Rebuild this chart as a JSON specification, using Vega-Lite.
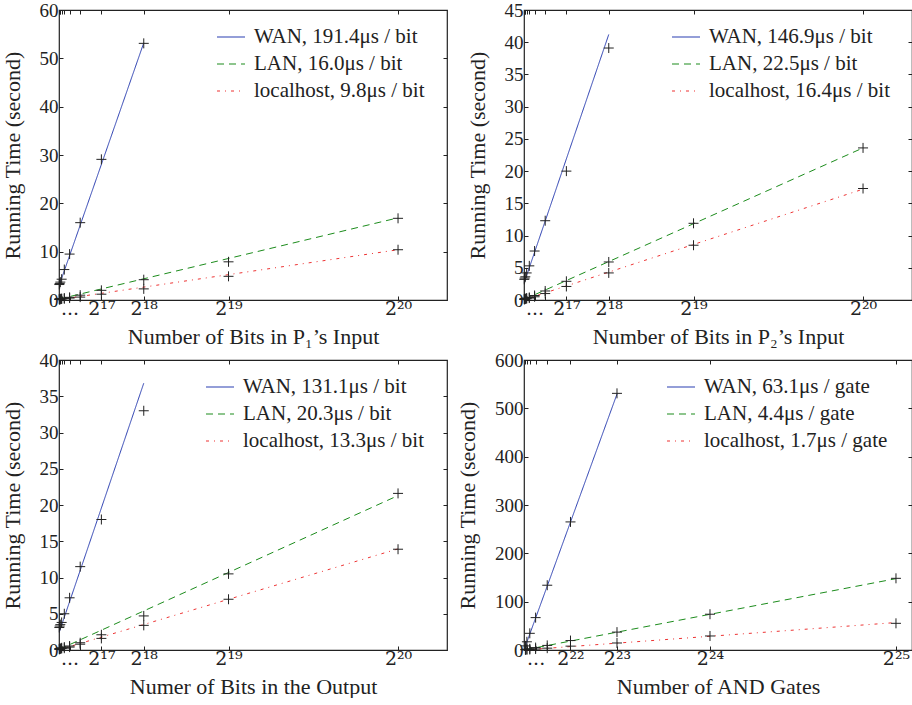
{
"$schema":"https://vega.github.io/schema/vega-lite/v6.json",
"padding":{"left":0,"top":0,"right":1,"bottom":0},
"columns":2,
"spacing":{"row":2,"column":6},
"resolve":{"scale":{"color":"independent","strokeDash":"independent"}},
"config":{
 "font":"Liberation Serif",
 "view":{"stroke":"#222","strokeWidth":1.2},
 "axis":{"labelFont":"Liberation Serif","titleFont":"Liberation Serif","labelFontSize":19,"titleFontSize":22,"titleFontWeight":"normal","tickSize":-4,"tickColor":"#222","labelColor":"#222","titleColor":"#222","grid":false,"domain":false,"labelPadding":5,"titlePadding":15,"labelOverlap":false,"labelBound":false,"labelFlush":false},
 "axisBottom":{"labelFont":"DejaVu Serif","labelFontSize":19,"labelPadding":3,"titlePadding":8},
 "legend":{"orient":"none","legendY":12,"padding":0,"labelFont":"Liberation Serif","labelFontSize":21,"labelColor":"#222","symbolType":"stroke","symbolSize":784,"symbolStrokeWidth":1.2,"rowPadding":2,"labelOffset":8,"labelLimit":400,"title":null}
},
"concat":[
{
 "width":388,"height":290,
 "data":{"values":[
  {"x":1024,"net":"WAN","t":3.2},{"x":2048,"net":"WAN","t":3.4},{"x":4096,"net":"WAN","t":3.7},{"x":8192,"net":"WAN","t":4.3},{"x":16384,"net":"WAN","t":6.3},{"x":32768,"net":"WAN","t":9.5},{"x":65536,"net":"WAN","t":16.0},{"x":131072,"net":"WAN","t":29.1},{"x":262144,"net":"WAN","t":53.1},
  {"x":1024,"net":"LAN","t":0.2},{"x":2048,"net":"LAN","t":0.22},{"x":4096,"net":"LAN","t":0.25},{"x":8192,"net":"LAN","t":0.3},{"x":16384,"net":"LAN","t":0.4},{"x":32768,"net":"LAN","t":0.55},{"x":65536,"net":"LAN","t":1.0},{"x":131072,"net":"LAN","t":2.0},{"x":262144,"net":"LAN","t":4.2},{"x":524288,"net":"LAN","t":7.9},{"x":1048576,"net":"LAN","t":16.9},
  {"x":1024,"net":"localhost","t":0.1},{"x":2048,"net":"localhost","t":0.12},{"x":4096,"net":"localhost","t":0.15},{"x":8192,"net":"localhost","t":0.2},{"x":16384,"net":"localhost","t":0.25},{"x":32768,"net":"localhost","t":0.4},{"x":65536,"net":"localhost","t":0.6},{"x":131072,"net":"localhost","t":1.2},{"x":262144,"net":"localhost","t":2.3},{"x":524288,"net":"localhost","t":4.9},{"x":1048576,"net":"localhost","t":10.4},
  {"x":1024,"net":"WAN","fit":3.1},{"x":262144,"net":"WAN","fit":53.2},
  {"x":1024,"net":"LAN","fit":0.2},{"x":1048576,"net":"LAN","fit":17.0},
  {"x":1024,"net":"localhost","fit":0.1},{"x":1048576,"net":"localhost","fit":10.4}
 ]},
 "layer":[
  {"transform":[{"filter":"isValid(datum.fit)"}],
   "mark":{"type":"line","strokeWidth":1},
   "encoding":{
    "x":{"field":"x","type":"quantitative","scale":{"domain":[0,1200000],"nice":false},"axis":{"orient":"bottom","title":"Number of Bits in P₁’s Input","values":[1024,2048,4096,8192,16384,32768,65536,131072,262144,524288,1048576],"labelExpr":"datum.value == 32768 ? '...' : datum.value == 131072 ? '2¹⁷' : datum.value == 262144 ? '2¹⁸' : datum.value == 524288 ? '2¹⁹' : datum.value == 1048576 ? '2²⁰' : ''"}},
    "y":{"field":"fit","type":"quantitative","scale":{"domain":[0,60],"nice":false},"axis":{"orient":"left","title":"Running Time (second)","values":[0,10,20,30,40,50,60]}},
    "color":{"field":"net","type":"nominal","scale":{"domain":["WAN","LAN","localhost"],"range":["#2a3eb1","#1c8c1c","#ee3333"]},"legend":{"legendX":157,"labelExpr":"datum.label == 'WAN' ? 'WAN, 191.4μs / bit' : datum.label == 'LAN' ? 'LAN, 16.0μs / bit' : 'localhost, 9.8μs / bit'"}},
    "strokeDash":{"field":"net","type":"nominal","scale":{"domain":["WAN","LAN","localhost"],"range":[[1,0],[7,5],[3,5,1,5]]},"legend":{"legendX":157,"labelExpr":"datum.label == 'WAN' ? 'WAN, 191.4μs / bit' : datum.label == 'LAN' ? 'LAN, 16.0μs / bit' : 'localhost, 9.8μs / bit'"}}
   }},
  {"transform":[{"filter":"isValid(datum.t)"}],
   "mark":{"type":"point","shape":"M-1,0H1M0,-1V1","size":100,"stroke":"#222","strokeWidth":1,"filled":false,"opacity":1},
   "encoding":{
    "x":{"field":"x","type":"quantitative","axis":{"orient":"top","title":null,"labels":false,"values":[1024,2048,4096,8192,16384,32768,65536,131072,262144,524288,1048576]}},
    "y":{"field":"t","type":"quantitative","axis":{"orient":"right","title":null,"labels":false,"values":[0,10,20,30,40,50,60]}}
   }}
 ]
},
{
 "width":388,"height":290,
 "data":{"values":[
  {"x":1024,"net":"WAN","t":3.2},{"x":2048,"net":"WAN","t":3.4},{"x":4096,"net":"WAN","t":3.6},{"x":8192,"net":"WAN","t":4.2},{"x":16384,"net":"WAN","t":5.3},{"x":32768,"net":"WAN","t":7.6},{"x":65536,"net":"WAN","t":12.3},{"x":131072,"net":"WAN","t":20.0},{"x":262144,"net":"WAN","t":39.1},
  {"x":1024,"net":"LAN","t":0.15},{"x":2048,"net":"LAN","t":0.18},{"x":4096,"net":"LAN","t":0.22},{"x":8192,"net":"LAN","t":0.3},{"x":16384,"net":"LAN","t":0.4},{"x":32768,"net":"LAN","t":0.7},{"x":65536,"net":"LAN","t":1.4},{"x":131072,"net":"LAN","t":2.9},{"x":262144,"net":"LAN","t":5.9},{"x":524288,"net":"LAN","t":11.9},{"x":1048576,"net":"LAN","t":23.6},
  {"x":1024,"net":"localhost","t":0.1},{"x":2048,"net":"localhost","t":0.12},{"x":4096,"net":"localhost","t":0.15},{"x":8192,"net":"localhost","t":0.2},{"x":16384,"net":"localhost","t":0.3},{"x":32768,"net":"localhost","t":0.5},{"x":65536,"net":"localhost","t":1.0},{"x":131072,"net":"localhost","t":2.1},{"x":262144,"net":"localhost","t":4.2},{"x":524288,"net":"localhost","t":8.5},{"x":1048576,"net":"localhost","t":17.3},
  {"x":1024,"net":"WAN","fit":2.75},{"x":262144,"net":"WAN","fit":41.2},
  {"x":1024,"net":"LAN","fit":0.1},{"x":1048576,"net":"LAN","fit":23.6},
  {"x":1024,"net":"localhost","fit":0.05},{"x":1048576,"net":"localhost","fit":17.2}
 ]},
 "layer":[
  {"transform":[{"filter":"isValid(datum.fit)"}],
   "mark":{"type":"line","strokeWidth":1},
   "encoding":{
    "x":{"field":"x","type":"quantitative","scale":{"domain":[0,1200000],"nice":false},"axis":{"orient":"bottom","title":"Number of Bits in P₂’s Input","values":[1024,2048,4096,8192,16384,32768,65536,131072,262144,524288,1048576],"labelExpr":"datum.value == 32768 ? '...' : datum.value == 131072 ? '2¹⁷' : datum.value == 262144 ? '2¹⁸' : datum.value == 524288 ? '2¹⁹' : datum.value == 1048576 ? '2²⁰' : ''"}},
    "y":{"field":"fit","type":"quantitative","scale":{"domain":[0,45],"nice":false},"axis":{"orient":"left","title":"Running Time (second)","values":[0,5,10,15,20,25,30,35,40,45]}},
    "color":{"field":"net","type":"nominal","scale":{"domain":["WAN","LAN","localhost"],"range":["#2a3eb1","#1c8c1c","#ee3333"]},"legend":{"legendX":147,"labelExpr":"datum.label == 'WAN' ? 'WAN, 146.9μs / bit' : datum.label == 'LAN' ? 'LAN, 22.5μs / bit' : 'localhost, 16.4μs / bit'"}},
    "strokeDash":{"field":"net","type":"nominal","scale":{"domain":["WAN","LAN","localhost"],"range":[[1,0],[7,5],[3,5,1,5]]},"legend":{"legendX":147,"labelExpr":"datum.label == 'WAN' ? 'WAN, 146.9μs / bit' : datum.label == 'LAN' ? 'LAN, 22.5μs / bit' : 'localhost, 16.4μs / bit'"}}
   }},
  {"transform":[{"filter":"isValid(datum.t)"}],
   "mark":{"type":"point","shape":"M-1,0H1M0,-1V1","size":100,"stroke":"#222","strokeWidth":1,"filled":false,"opacity":1},
   "encoding":{
    "x":{"field":"x","type":"quantitative","axis":{"orient":"top","title":null,"labels":false,"values":[1024,2048,4096,8192,16384,32768,65536,131072,262144,524288,1048576]}},
    "y":{"field":"t","type":"quantitative","axis":{"orient":"right","title":null,"labels":false,"values":[0,5,10,15,20,25,30,35,40,45]}}
   }}
 ]
},
{
 "width":388,"height":290,
 "data":{"values":[
  {"x":1024,"net":"WAN","t":3.1},{"x":2048,"net":"WAN","t":3.3},{"x":4096,"net":"WAN","t":3.5},{"x":8192,"net":"WAN","t":3.8},{"x":16384,"net":"WAN","t":5.0},{"x":32768,"net":"WAN","t":7.2},{"x":65536,"net":"WAN","t":11.5},{"x":131072,"net":"WAN","t":18.0},{"x":262144,"net":"WAN","t":33.0},
  {"x":1024,"net":"LAN","t":0.15},{"x":2048,"net":"LAN","t":0.18},{"x":4096,"net":"LAN","t":0.22},{"x":8192,"net":"LAN","t":0.3},{"x":16384,"net":"LAN","t":0.4},{"x":32768,"net":"LAN","t":0.55},{"x":65536,"net":"LAN","t":1.0},{"x":131072,"net":"LAN","t":2.1},{"x":262144,"net":"LAN","t":4.7},{"x":524288,"net":"LAN","t":10.5},{"x":1048576,"net":"LAN","t":21.6},
  {"x":1024,"net":"localhost","t":0.1},{"x":2048,"net":"localhost","t":0.12},{"x":4096,"net":"localhost","t":0.15},{"x":8192,"net":"localhost","t":0.2},{"x":16384,"net":"localhost","t":0.25},{"x":32768,"net":"localhost","t":0.4},{"x":65536,"net":"localhost","t":0.8},{"x":131072,"net":"localhost","t":1.6},{"x":262144,"net":"localhost","t":3.4},{"x":524288,"net":"localhost","t":7.0},{"x":1048576,"net":"localhost","t":13.9},
  {"x":1024,"net":"WAN","fit":2.5},{"x":262144,"net":"WAN","fit":36.8},
  {"x":1024,"net":"LAN","fit":0.1},{"x":1048576,"net":"LAN","fit":21.3},
  {"x":1024,"net":"localhost","fit":0.05},{"x":1048576,"net":"localhost","fit":13.95}
 ]},
 "layer":[
  {"transform":[{"filter":"isValid(datum.fit)"}],
   "mark":{"type":"line","strokeWidth":1},
   "encoding":{
    "x":{"field":"x","type":"quantitative","scale":{"domain":[0,1200000],"nice":false},"axis":{"orient":"bottom","title":"Numer of Bits in the Output","values":[1024,2048,4096,8192,16384,32768,65536,131072,262144,524288,1048576],"labelExpr":"datum.value == 32768 ? '...' : datum.value == 131072 ? '2¹⁷' : datum.value == 262144 ? '2¹⁸' : datum.value == 524288 ? '2¹⁹' : datum.value == 1048576 ? '2²⁰' : ''"}},
    "y":{"field":"fit","type":"quantitative","scale":{"domain":[0,40],"nice":false},"axis":{"orient":"left","title":"Running Time (second)","values":[0,5,10,15,20,25,30,35,40]}},
    "color":{"field":"net","type":"nominal","scale":{"domain":["WAN","LAN","localhost"],"range":["#2a3eb1","#1c8c1c","#ee3333"]},"legend":{"legendX":146,"labelExpr":"datum.label == 'WAN' ? 'WAN, 131.1μs / bit' : datum.label == 'LAN' ? 'LAN, 20.3μs / bit' : 'localhost, 13.3μs / bit'"}},
    "strokeDash":{"field":"net","type":"nominal","scale":{"domain":["WAN","LAN","localhost"],"range":[[1,0],[7,5],[3,5,1,5]]},"legend":{"legendX":146,"labelExpr":"datum.label == 'WAN' ? 'WAN, 131.1μs / bit' : datum.label == 'LAN' ? 'LAN, 20.3μs / bit' : 'localhost, 13.3μs / bit'"}}
   }},
  {"transform":[{"filter":"isValid(datum.t)"}],
   "mark":{"type":"point","shape":"M-1,0H1M0,-1V1","size":100,"stroke":"#222","strokeWidth":1,"filled":false,"opacity":1},
   "encoding":{
    "x":{"field":"x","type":"quantitative","axis":{"orient":"top","title":null,"labels":false,"values":[1024,2048,4096,8192,16384,32768,65536,131072,262144,524288,1048576]}},
    "y":{"field":"t","type":"quantitative","axis":{"orient":"right","title":null,"labels":false,"values":[0,5,10,15,20,25,30,35,40]}}
   }}
 ]
},
{
 "width":388,"height":290,
 "data":{"values":[
  {"x":131072,"net":"WAN","t":8.5},{"x":262144,"net":"WAN","t":17},{"x":524288,"net":"WAN","t":34.5},{"x":1048576,"net":"WAN","t":67},{"x":2097152,"net":"WAN","t":134},{"x":4194304,"net":"WAN","t":265},{"x":8388608,"net":"WAN","t":531},
  {"x":131072,"net":"LAN","t":1.0},{"x":262144,"net":"LAN","t":1.5},{"x":524288,"net":"LAN","t":2.5},{"x":1048576,"net":"LAN","t":5},{"x":2097152,"net":"LAN","t":9.5},{"x":4194304,"net":"LAN","t":19.5},{"x":8388608,"net":"LAN","t":37},{"x":16777216,"net":"LAN","t":74},{"x":33554432,"net":"LAN","t":148.3},
  {"x":131072,"net":"localhost","t":0.4},{"x":262144,"net":"localhost","t":0.6},{"x":524288,"net":"localhost","t":1.0},{"x":1048576,"net":"localhost","t":2.0},{"x":2097152,"net":"localhost","t":3.8},{"x":4194304,"net":"localhost","t":8},{"x":8388608,"net":"localhost","t":14.5},{"x":16777216,"net":"localhost","t":29.0},{"x":33554432,"net":"localhost","t":55.2},
  {"x":131072,"net":"WAN","fit":8.3},{"x":8388608,"net":"WAN","fit":529.5},
  {"x":131072,"net":"LAN","fit":0.6},{"x":33554432,"net":"LAN","fit":147.6},
  {"x":131072,"net":"localhost","fit":0.2},{"x":33554432,"net":"localhost","fit":56.8}
 ]},
 "layer":[
  {"transform":[{"filter":"isValid(datum.fit)"}],
   "mark":{"type":"line","strokeWidth":1},
   "encoding":{
    "x":{"field":"x","type":"quantitative","scale":{"domain":[0,35000000],"nice":false},"axis":{"orient":"bottom","title":"Number of AND Gates","values":[131072,262144,524288,1048576,2097152,4194304,8388608,16777216,33554432],"labelExpr":"datum.value == 1048576 ? '...' : datum.value == 4194304 ? '2²²' : datum.value == 8388608 ? '2²³' : datum.value == 16777216 ? '2²⁴' : datum.value == 33554432 ? '2²⁵' : ''"}},
    "y":{"field":"fit","type":"quantitative","scale":{"domain":[0,600],"nice":false},"axis":{"orient":"left","title":"Running Time (second)","values":[0,100,200,300,400,500,600]}},
    "color":{"field":"net","type":"nominal","scale":{"domain":["WAN","LAN","localhost"],"range":["#2a3eb1","#1c8c1c","#ee3333"]},"legend":{"legendX":142,"labelExpr":"datum.label == 'WAN' ? 'WAN, 63.1μs / gate' : datum.label == 'LAN' ? 'LAN, 4.4μs / gate' : 'localhost, 1.7μs / gate'"}},
    "strokeDash":{"field":"net","type":"nominal","scale":{"domain":["WAN","LAN","localhost"],"range":[[1,0],[7,5],[3,5,1,5]]},"legend":{"legendX":142,"labelExpr":"datum.label == 'WAN' ? 'WAN, 63.1μs / gate' : datum.label == 'LAN' ? 'LAN, 4.4μs / gate' : 'localhost, 1.7μs / gate'"}}
   }},
  {"transform":[{"filter":"isValid(datum.t)"}],
   "mark":{"type":"point","shape":"M-1,0H1M0,-1V1","size":100,"stroke":"#222","strokeWidth":1,"filled":false,"opacity":1},
   "encoding":{
    "x":{"field":"x","type":"quantitative","axis":{"orient":"top","title":null,"labels":false,"values":[131072,262144,524288,1048576,2097152,4194304,8388608,16777216,33554432]}},
    "y":{"field":"t","type":"quantitative","axis":{"orient":"right","title":null,"labels":false,"values":[0,100,200,300,400,500,600]}}
   }}
 ]
}
]
}
